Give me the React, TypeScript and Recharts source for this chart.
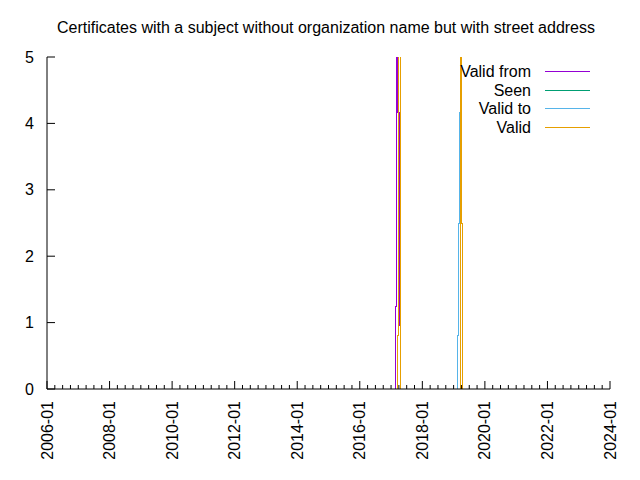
import { LineChart, Line, XAxis, YAxis, Legend } from "recharts";

// x values are months since 2006-01
const monthTicks = Array.from({ length: 73 }, (_, i) => i * 3);
const yTicks = [0, 1, 2, 3, 4, 5];

const validFromX = [133.3, 133.63, 134.01, 134.28, 134.65, 135.05, 135.55];
const validFromY = [0, 1.24, 3.73, 7, 4.16, 0.96, 0];

const seenX: number[] = [];
const seenY: number[] = [];

const validToX = [157.2, 157.42, 157.8, 158.19, 158.57, 158.8];
const validToY = [0, 0.81, 2.5, 4.16, 2.5, 0];

const validX = [134.3, 134.39, 134.7, 135.0, 135.55, 135.62, 158.6, 158.8, 158.88, 159.33, 159.6];
const validY = [0, 0.81, 2.5, 7, 0.96, 0, 0, 7, 2.5, 0.81, 0];

const seriesNames = ["Valid from", "Seen", "Valid to", "Valid"];
const seriesColors = ["#9400d3", "#009e73", "#56b4e9", "#e69f00"];

const toRows = (xs: number[], ys: number[]) => xs.map((m, i) => ({ m, v: ys[i] }));

const FONT = "'Liberation Sans', Arial, sans-serif";
const FS = 16;

const label = (m: number) => `${2006 + Math.floor(m / 12)}-01`;

function BottomTick({ x, y, payload }: any) {
  const major = payload.value % 24 === 0;
  const ly = y + 12;
  return (
    <g>
      <line x1={x} x2={x} y1={y} y2={y - (major ? 8 : 4)} stroke="#000" />
      {major && (
        <text x={x} y={ly} dy={5.5} textAnchor="end" transform={`rotate(-90 ${x} ${ly})`} fontSize={FS} fontFamily={FONT} fill="#000">
          {label(payload.value)}
        </text>
      )}
    </g>
  );
}

function TopTick({ x, y, payload }: any) {
  const major = payload.value % 24 === 0;
  return <line x1={x} x2={x} y1={y} y2={y + (major ? 8 : 4)} stroke="#000" />;
}

function LeftTick({ x, y, payload }: any) {
  return (
    <g>
      <line x1={x} x2={x + 8} y1={y} y2={y} stroke="#000" />
      <text x={x - 13} y={y} dy={5.5} textAnchor="end" fontSize={FS} fontFamily={FONT} fill="#000">
        {payload.value}
      </text>
    </g>
  );
}

function RightTick({ x, y }: any) {
  return <line x1={x} x2={x - 8} y1={y} y2={y} stroke="#000" />;
}

function Overlay() {
  return (
    <svg width={640} height={480} style={{ position: "absolute", left: 0, top: 0, pointerEvents: "none" }}>
      <text x={326} y={33} textAnchor="middle" fontSize={FS} fontFamily={FONT} fill="#000">
        Certificates with a subject without organization name but with street address
      </text>
      {seriesNames.map((name, i) => {
        const cy = Math.round(71 + i * 18.7) + 0.5;
        return (
          <g key={name}>
            <text x={531} y={cy} dy={5.5} textAnchor="end" fontSize={FS} fontFamily={FONT} fill="#000">
              {name}
            </text>
            <line x1={545} x2={590} y1={cy} y2={cy} stroke={seriesColors[i]} strokeWidth={1} />
          </g>
        );
      })}
    </svg>
  );
}

export default function App() {
  const series = [
    toRows(validFromX, validFromY),
    toRows(seenX, seenY),
    toRows(validToX, validToY),
    toRows(validX, validY),
  ];
  return (
    <div style={{ position: "absolute", left: 0, top: 0, width: 640, height: 480, background: "#fff" }}>
      <LineChart width={640} height={480} margin={{ top: 57, right: 30, bottom: 0, left: 0 }}>
        <XAxis
          dataKey="m"
          type="number"
          domain={[0, 216]}
          ticks={monthTicks}
          interval={0}
          allowDataOverflow
          height={91}
          tickSize={0}
          tickMargin={0}
          tickLine={false}
          axisLine={{ stroke: "#000" }}
          tick={<BottomTick />}
        />
        <XAxis
          xAxisId="top"
          orientation="top"
          dataKey="m"
          type="number"
          domain={[0, 216]}
          ticks={monthTicks}
          interval={0}
          height={0}
          tickSize={0}
          tickMargin={0}
          tickLine={false}
          axisLine={{ stroke: "#000" }}
          tick={<TopTick />}
        />
        <YAxis
          type="number"
          domain={[0, 5]}
          ticks={yTicks}
          interval={0}
          allowDataOverflow
          width={47}
          tickSize={0}
          tickMargin={0}
          tickLine={false}
          axisLine={{ stroke: "#000" }}
          tick={<LeftTick />}
        />
        <YAxis
          yAxisId="r"
          orientation="right"
          type="number"
          domain={[0, 5]}
          ticks={yTicks}
          interval={0}
          width={0}
          tickSize={0}
          tickMargin={0}
          tickLine={false}
          axisLine={{ stroke: "#000" }}
          tick={<RightTick />}
        />
        {series.map((rows, i) => (
          <Line
            key={seriesNames[i]}
            data={rows}
            dataKey="v"
            name={seriesNames[i]}
            type="stepAfter"
            stroke={seriesColors[i]}
            strokeWidth={1}
            shapeRendering="crispEdges"
            dot={false}
            activeDot={false}
            isAnimationActive={false}
          />
        ))}
        <Legend
          layout="vertical"
          align="center"
          verticalAlign="middle"
          wrapperStyle={{ left: 0, top: 0 }}
          content={() => <Overlay />}
        />
      </LineChart>
    </div>
  );
}
